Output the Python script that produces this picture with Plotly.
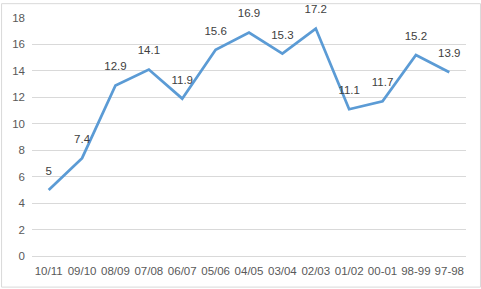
import plotly.graph_objects as go

categories = ["10/11", "09/10", "08/09", "07/08", "06/07", "05/06", "04/05",
              "03/04", "02/03", "01/02", "00-01", "98-99", "97-98"]
values = [5, 7.4, 12.9, 14.1, 11.9, 15.6, 16.9, 15.3, 17.2, 11.1, 11.7, 15.2, 13.9]
labels = ["5", "7.4", "12.9", "14.1", "11.9", "15.6", "16.9", "15.3", "17.2",
          "11.1", "11.7", "15.2", "13.9"]

W, H = 481, 289
ml, mr, mt, mb = 31, 15, 15, 33
pw, ph = W - ml - mr, H - mt - mb

fig = go.Figure()
fig.add_trace(go.Scatter(
    x=categories, y=values, mode="lines+markers+text",
    text=labels, textposition="top center",
    textfont=dict(family="Liberation Sans, Arial, sans-serif", size=11.5, color="#404040"),
    line=dict(color="#5B9BD5", width=2.75),
    marker=dict(size=18, color="rgba(0,0,0,0)"),
    cliponaxis=False, hoverinfo="skip",
))

fig.update_layout(
    width=W, height=H,
    margin=dict(l=ml, r=mr, t=mt, b=mb),
    paper_bgcolor="white", plot_bgcolor="white",
    showlegend=False,
    font=dict(family="Liberation Sans, Arial, sans-serif", size=11, color="#595959"),
    xaxis=dict(type="category", range=[-0.5, len(categories) - 0.5],
               showgrid=False, showline=True, linecolor="#D9D9D9", linewidth=1,
               ticks="", ticklabelstandoff=4,
               tickfont=dict(size=11.5, color="#595959"), zeroline=False),
    yaxis=dict(range=[0, 18], dtick=2, showgrid=True, gridcolor="#D9D9D9",
               gridwidth=1, zeroline=False, showline=False, ticks="",
               ticklabelstandoff=6,
               tickfont=dict(size=11.5, color="#595959")),
    shapes=[dict(type="rect", xref="paper", yref="paper",
                 x0=(0.5 - ml) / pw, x1=(W - 0.5 - ml) / pw,
                 y0=(H - mb - (H - 1.5)) / ph, y1=(H - mb - 0.5) / ph,
                 line=dict(color="#D9D9D9", width=1), layer="below")],
)

fig.write_html("out.html")
